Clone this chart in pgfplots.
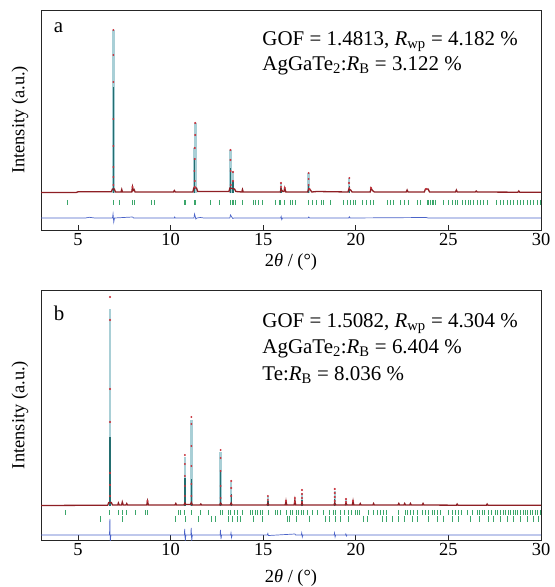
\documentclass[border=0pt]{standalone}
\usepackage{fontspec}
\setmainfont{Liberation Serif}
\usepackage{pgfplots}
\pgfplotsset{compat=1.18}
\definecolor{obsred}{HTML}{C8323C}
\definecolor{basered}{HTML}{8E1F24}
\definecolor{calccyan}{HTML}{A9CFD6}
\definecolor{calcteal}{HTML}{236E70}
\definecolor{braggreen}{HTML}{3BA66B}
\definecolor{diffblue}{HTML}{4A63C8}
\tikzset{
  anno/.style={anchor=base west, font=\fontsize{21}{22}\selectfont, inner sep=0pt},
  panel/.style={anchor=base west, font=\fontsize{21}{22}\selectfont, inner sep=0pt},
}
\pgfplotsset{
  rietveld/.style={
    scale only axis, width=500bp, xmin=3, xmax=30,
    xtick={5,10,15,20,25,30}, xtick pos=bottom, ytick=\empty,
    tick align=inside, major tick length=5bp,
    axis line style={line width=1bp, black!85},
    tick style={line width=1bp, black!85},
    /pgf/number format/assume math mode=true,
    tick label style={font=\fontsize{18.5}{20}\selectfont},
    label style={font=\fontsize{18.5}{20}\selectfont},
    xlabel={2\textit{θ} / (°)},
    ylabel={Intensity (a.u.)},
    ylabel style={at={(axis description cs:-0.042,0.5)}, anchor=center},
  },
  calc/.style={ycomb, calccyan, line width=2.3bp},
  core/.style={ycomb, calcteal, line width=1.3bp},
  obs/.style={only marks, mark=*, mark size=0.8bp, obsred},
  base/.style={basered, line width=1.3bp},
  diff/.style={diffblue, line width=0.7bp},
  bragg/.style={only marks, mark=|, mark size=2.6bp, braggreen, mark options={line width=0.8bp}},
}
\begin{document}
\begin{tikzpicture}
\useasboundingbox (0,0) rectangle (555bp,-587bp);
% ---------------- panel a ----------------
\begin{axis}[rietveld, height=220bp, ymin=-37, ymax=183, at={(41bp,-10bp)}, anchor=north west,
  xlabel style={at={(axis description cs:0.5,-0.145)}, anchor=center}]
\addplot[calc] coordinates {(6.91,163) (11.27,45) (11.34,70) (13.23,43) (13.37,21) (15.96,10) (17.45,20) (19.65,15)};
\addplot[core] coordinates {(6.91,106) (11.30,34) (13.23,25) (13.37,12) (17.45,8) (19.65,7) (15.96,5)};
\addplot[base] coordinates {(3,0.5) (4.9,0.5) (5.0,1.2) (6.80,1.2) (6.86,4) (6.96,4) (7.02,1) (7.32,1) (7.36,3.5) (7.40,1)
  (7.90,1) (7.94,6) (7.98,2.5) (8.03,3.5) (8.08,1) (10.15,1) (10.20,2.5) (10.25,1) (11.20,1) (11.25,5) (11.40,5) (11.46,1.5)
  (13.15,1.5) (13.20,5) (13.45,4) (13.52,1.5) (13.84,1) (13.88,3.5) (13.92,1) (15.92,1) (15.96,4) (16.05,1.5) (16.12,1.5) (16.16,5) (16.22,1)
  (17.40,1) (17.45,4) (17.55,3) (17.62,1) (17.90,1.5) (19.58,1) (19.63,4) (19.72,3) (19.80,1) (20.78,1) (20.82,5) (20.90,2.5) (21.0,1)
  (22.72,1) (22.77,3) (22.82,1) (23.70,1) (23.76,4) (23.90,4) (23.98,1) (25.38,1) (25.43,3) (25.48,1) (26.45,1) (26.50,2) (26.55,1)
  (28.75,0.8) (28.80,2) (28.85,0.8) (30,0.8)};
\addplot[obs] coordinates {(6.91,163) (6.91,138) (6.91,111) (6.91,74) (6.91,47) (6.91,26) (6.91,16) (6.91,8)
  (11.33,70) (11.33,58) (11.30,45) (11.30,34) (11.28,22) (11.30,12) (11.30,6)
  (13.23,43) (13.23,33) (13.24,22) (13.37,21) (13.37,12) (13.25,8)
  (15.96,10) (15.96,6) (16.16,5) (17.45,20) (17.45,14) (17.45,8) (17.50,4)
  (19.65,15) (19.63,10) (19.65,5) (20.82,5) (7.94,6) (23.80,4)};
\addplot[bragg] coordinates {(4.42,-9.5) (6.91,-9.5) (7.22,-9.5) (7.94,-9.5) (8.03,-9.5) (8.95,-9.5) (9.13,-9.5) (10.73,-9.5) (10.82,-9.5)
  (11.27,-9.5) (11.34,-9.5) (12.14,-9.5) (12.62,-9.5) (13.22,-9.5) (13.31,-9.5) (13.40,-9.5) (13.49,-9.5) (13.88,-9.5) (14.48,-9.5)
  (14.60,-9.5) (14.75,-9.5) (14.98,-9.5) (15.65,-9.5) (15.86,-9.5) (15.95,-9.5) (16.13,-9.5) (16.46,-9.5) (16.58,-9.5) (16.73,-9.5)
  (17.45,-9.5) (17.67,-9.5) (17.87,-9.5) (18.12,-9.5) (18.23,-9.5) (18.62,-9.5) (19.31,-9.5) (19.52,-9.5) (19.70,-9.5) (19.88,-9.5)
  (19.97,-9.5) (20.33,-9.5) (20.57,-9.5) (20.78,-9.5) (20.96,-9.5) (21.69,-9.5) (21.87,-9.5) (22.05,-9.5) (22.41,-9.5) (22.62,-9.5)
  (22.86,-9.5) (23.31,-9.5) (23.49,-9.5) (23.85,-9.5) (23.94,-9.5) (24.03,-9.5) (24.12,-9.5) (24.21,-9.5) (24.30,-9.5) (24.75,-9.5)
  (25.02,-9.5) (25.20,-9.5) (25.38,-9.5) (25.47,-9.5) (25.74,-9.5) (25.92,-9.5) (26.10,-9.5) (26.19,-9.5) (26.33,-9.5) (26.55,-9.5)
  (26.73,-9.5) (26.91,-9.5) (27.09,-9.5) (27.60,-9.5) (27.81,-9.5) (27.99,-9.5) (28.17,-9.5) (28.35,-9.5) (28.53,-9.5) (28.71,-9.5)
  (28.89,-9.5) (29.07,-9.5) (29.25,-9.5) (29.43,-9.5) (29.61,-9.5) (29.79,-9.5) (29.97,-9.5)};
\addplot[diff] coordinates {(3,-25) (5.4,-25) (5.6,-24.3) (5.9,-25) (6.86,-25) (6.89,-21) (6.93,-29) (6.97,-25) (7.94,-24) (8.0,-25)
  (10.2,-25) (10.22,-24) (10.25,-25) (11.26,-25) (11.29,-21) (11.33,-23.5) (11.36,-26) (11.42,-25) (11.6,-24.5) (11.8,-25)
  (13.20,-25) (13.23,-22) (13.30,-24) (13.36,-25.5) (13.42,-25) (15.94,-25) (15.97,-23.5) (16.0,-26.5) (16.04,-25)
  (17.43,-25) (17.46,-24) (17.5,-25) (19.62,-25) (19.65,-23.8) (19.69,-25) (23.8,-24.5) (23.9,-25) (30,-25)};
\node[panel] at (axis cs:3.68,161) {a};
\node[anno] at (axis cs:14.95,148) {GOF = 1.4813, \textit{R}\textsubscript{wp} = 4.182 \%};
\node[anno] at (axis cs:14.95,123) {AgGaTe\textsubscript{2}:\textit{R}\textsubscript{B} = 3.122 \%};
\end{axis}
% ---------------- panel b ----------------
\begin{axis}[rietveld, height=250bp, ymin=-34, ymax=216, at={(41bp,-290bp)}, anchor=north west,
  xlabel style={at={(axis description cs:0.5,-0.152)}, anchor=center}]
\addplot[calc] coordinates {(6.73,197) (10.77,49) (11.12,86) (12.70,54) (13.27,24) (15.25,10) (17.09,13) (18.86,15) (19.47,7)};
\addplot[core] coordinates {(6.73,69) (10.77,28) (11.12,27) (12.70,36) (13.27,12) (15.25,5) (17.09,6) (18.86,7)};
\addplot[base] coordinates {(3,0.5) (6.60,0.8) (6.66,3.5) (6.80,3.5) (6.86,1) (7.14,1) (7.18,3) (7.22,1) (7.35,1) (7.39,4) (7.44,1)
  (7.59,1) (7.63,2.5) (7.67,1) (8.71,1) (8.75,5) (8.80,1) (10.24,1) (10.28,2.5) (10.32,1) (10.72,1) (10.77,3) (10.82,1.5) (11.07,1.5)
  (11.12,3.5) (11.18,1) (11.59,1) (11.63,2) (11.67,1) (12.65,1) (12.70,3) (12.76,1) (13.22,1) (13.27,3) (13.32,1) (15.21,1) (15.25,3)
  (15.30,1) (16.19,1) (16.23,5) (16.27,1) (16.67,1) (16.71,6) (16.75,1) (17.05,1) (17.09,3) (17.14,1) (18.82,1) (18.86,3) (18.91,1)
  (19.43,1) (19.47,3) (19.52,1) (19.81,1) (19.85,5) (19.89,1) (20.20,1) (20.24,2.5) (20.28,1) (20.92,1) (20.96,2.5) (21.0,1)
  (22.28,1) (22.32,2.5) (22.36,1) (22.60,1) (22.64,2.5) (22.68,1) (22.91,1) (22.95,2.5) (22.99,1) (23.59,1) (23.63,2.5) (23.67,1)
  (25.43,0.8) (25.47,2) (25.51,0.8) (27.05,0.8) (27.09,2) (27.13,0.8) (30,0.8)};
\addplot[obs] coordinates {(6.73,209) (6.73,186) (6.73,117) (6.73,84) (6.73,33) (6.73,21) (6.73,10)
  (10.77,51) (10.77,42) (10.77,30) (10.77,20) (10.77,10) (11.12,89) (11.12,82) (11.12,60) (11.12,40) (11.12,22) (11.12,10)
  (12.70,56) (12.70,48) (12.70,35) (12.70,20) (12.70,8) (13.27,25) (13.27,18) (13.27,10)
  (15.25,10) (15.25,6) (16.23,5) (16.71,8) (16.71,4) (17.09,16) (17.09,12) (17.09,8) (17.09,4)
  (18.86,17) (18.86,13) (18.86,9) (18.86,5) (19.47,7) (19.47,4) (19.85,5) (8.75,5)};
\addplot[bragg] coordinates {(4.30,-6.5) (6.69,-6.5) (7.18,-6.5) (7.40,-6.5) (7.63,-6.5) (8.08,-6.5) (8.62,-6.5) (8.75,-6.5) (10.42,-6.5)
  (10.55,-6.5) (10.75,-6.5) (11.14,-6.5) (11.59,-6.5) (12.05,-6.5) (12.68,-6.5) (12.82,-6.5) (13.13,-6.5) (13.25,-6.5) (13.43,-6.5)
  (13.58,-6.5) (13.85,-6.5) (14.30,-6.5) (14.42,-6.5) (14.57,-6.5) (14.69,-6.5) (14.84,-6.5) (14.98,-6.5) (15.29,-6.5) (15.65,-6.5)
  (15.79,-6.5) (15.92,-6.5) (16.24,-6.5) (16.46,-6.5) (16.60,-6.5) (16.78,-6.5) (16.91,-6.5) (17.04,-6.5) (17.18,-6.5) (17.36,-6.5)
  (17.63,-6.5) (17.90,-6.5) (18.23,-6.5) (18.59,-6.5) (18.77,-6.5) (18.89,-6.5) (19.16,-6.5) (19.38,-6.5) (19.61,-6.5) (19.74,-6.5)
  (19.97,-6.5) (20.10,-6.5) (20.19,-6.5) (20.67,-6.5) (20.96,-6.5) (21.15,-6.5) (21.33,-6.5) (21.51,-6.5) (21.65,-6.5) (22.32,-6.5)
  (22.68,-6.5) (22.80,-6.5) (22.95,-6.5) (23.13,-6.5) (23.34,-6.5) (23.58,-6.5) (23.76,-6.5) (23.94,-6.5) (24.12,-6.5) (24.24,-6.5)
  (24.39,-6.5) (24.57,-6.5) (25.02,-6.5) (25.20,-6.5) (25.38,-6.5) (25.56,-6.5) (25.70,-6.5) (26.01,-6.5) (26.28,-6.5) (26.55,-6.5)
  (26.70,-6.5) (26.82,-6.5) (26.95,-6.5) (27.18,-6.5) (27.33,-6.5) (27.54,-6.5) (27.67,-6.5) (27.81,-6.5) (27.96,-6.5) (28.08,-6.5)
  (28.23,-6.5) (28.35,-6.5) (28.50,-6.5) (28.62,-6.5) (28.75,-6.5) (28.89,-6.5) (29.04,-6.5) (29.16,-6.5) (29.29,-6.5) (29.43,-6.5)
  (29.56,-6.5) (29.70,-6.5) (29.83,-6.5) (29.97,-6.5)};
\addplot[bragg] coordinates {(6.19,-13) (7.41,-13) (10.24,-13) (10.78,-13) (11.50,-13) (12.22,-13) (12.41,-13) (13.13,-13) (13.31,-13)
  (13.58,-13) (13.76,-13) (14.48,-13) (14.93,-13) (16.28,-13) (16.41,-13) (16.78,-13) (17.51,-13) (18.35,-13) (18.59,-13) (18.89,-13)
  (19.16,-13) (19.61,-13) (20.42,-13) (20.64,-13) (21.42,-13) (21.65,-13) (21.96,-13) (22.32,-13) (22.62,-13) (23.04,-13) (23.31,-13)
  (23.94,-13) (24.39,-13) (24.75,-13) (25.20,-13) (25.56,-13) (26.19,-13) (26.70,-13) (27.18,-13) (27.45,-13) (27.81,-13) (28.17,-13)
  (28.53,-13) (28.89,-13) (29.25,-13) (29.61,-13) (29.88,-13)};
\addplot[diff] coordinates {(3,-29) (6.70,-29) (6.72,-13) (6.74,-36) (6.77,-29) (10.74,-29) (10.76,-23) (10.79,-35) (10.82,-29)
  (11.09,-29) (11.11,-22) (11.14,-35) (11.17,-29) (12.67,-29) (12.69,-24) (12.72,-33) (12.75,-29) (13.24,-29) (13.26,-27) (13.29,-31.5)
  (13.32,-29) (15.22,-29) (15.25,-27.5) (15.28,-29.5) (16.71,-28) (16.75,-29) (17.06,-29) (17.08,-27) (17.11,-31) (17.14,-29)
  (18.83,-29) (18.85,-27) (18.88,-31) (18.91,-29) (19.44,-29) (19.46,-28) (19.49,-30) (19.52,-29) (30,-29)};
\node[panel] at (axis cs:3.68,186) {b};
\node[anno] at (axis cs:14.95,179) {GOF = 1.5082, \textit{R}\textsubscript{wp} = 4.304 \%};
\node[anno] at (axis cs:14.95,153) {AgGaTe\textsubscript{2}:\textit{R}\textsubscript{B} = 6.404 \%};
\node[anno] at (axis cs:14.95,126) {Te:\textit{R}\textsubscript{B} = 8.036 \%};
\end{axis}
\end{tikzpicture}
\end{document}
